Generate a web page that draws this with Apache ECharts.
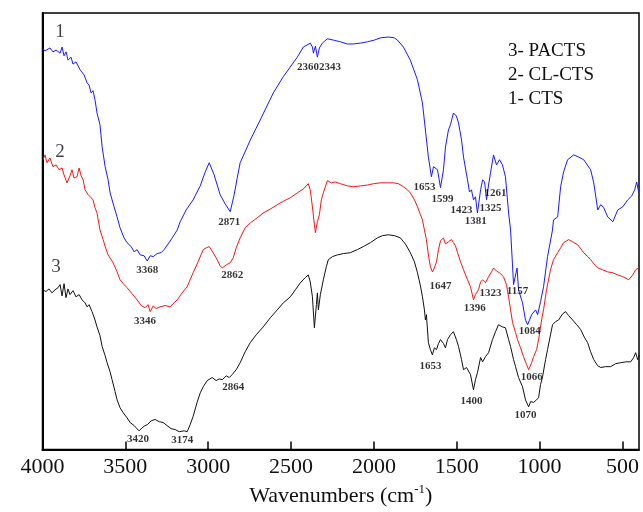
<!DOCTYPE html>
<html>
<head>
<meta charset="utf-8">
<title>FTIR</title>
<script src="https://cdn.jsdelivr.net/npm/echarts@6.0.0/dist/echarts.min.js"></script>
<style>
    html,body{margin:0;padding:0;background:#fff;}
    #main{width:643px;height:512px;}
</style>
</head>
<body>
<div id="main"></div>
<script>
// 1- CTS  [wavenumber, transmittance(a.u.)]
let cts=[[3997,91.8],[3985,91.3],[3973,91.3],[3955,92.0],[3937,91.1],[3918,91.5],[3894,90.8],[3882,92.2],[3870,90.2],[3858,91.1],[3846,89.2],[3828,89.9],[3816,88.3],[3798,88.8],[3773,87.0],[3749,85.8],[3731,84.0],[3719,83.5],[3707,81.7],[3695,82.2],[3683,80.1],[3671,77.1],[3653,74.4],[3640,69.3],[3622,64.8],[3604,61.8],[3592,58.8],[3568,55.6],[3550,53.3],[3532,50.8],[3508,48.5],[3490,47.4],[3465,46.5],[3447,45.3],[3429,45.8],[3411,44.6],[3387,44.4],[3368,43.2],[3350,44.4],[3332,44.2],[3308,44.9],[3284,45.1],[3266,45.8],[3242,47.1],[3217,48.5],[3187,50.3],[3169,52.2],[3133,54.9],[3091,57.2],[3048,60.4],[3018,63.6],[2994,65.7],[2964,62.9],[2928,58.4],[2898,56.3],[2867,54.5],[2843,58.4],[2825,62.2],[2807,65.7],[2746,70.9],[2686,75.5],[2607,81.7],[2547,85.4],[2462,89.9],[2426,92.2],[2383,93.1],[2371,92.2],[2365,90.8],[2353,92.4],[2341,89.9],[2329,92.0],[2311,93.1],[2281,94.1],[2245,93.8],[2202,93.4],[2160,92.9],[2124,92.9],[2082,93.1],[2039,93.4],[1997,93.8],[1961,94.3],[1912,94.5],[1876,94.3],[1858,93.8],[1822,92.2],[1780,89.2],[1737,84.7],[1707,79.4],[1689,73.2],[1671,67.0],[1653,62.5],[1640,64.8],[1628,64.8],[1616,64.1],[1598,60.0],[1580,64.1],[1568,69.3],[1550,73.2],[1538,74.4],[1520,77.1],[1502,76.4],[1489,74.8],[1471,70.9],[1459,67.0],[1435,61.8],[1423,59.0],[1411,59.5],[1399,57.2],[1387,57.9],[1375,54.2],[1356,59.5],[1344,61.8],[1332,61.3],[1320,57.2],[1308,60.6],[1296,63.4],[1278,67.5],[1260,65.2],[1242,66.4],[1224,65.2],[1206,62.5],[1187,54.2],[1175,50.3],[1157,37.8],[1136,41.6],[1127,36.6],[1103,33.6],[1085,29.7],[1072,28.6],[1048,30.9],[1024,32.0],[1012,30.9],[994,33.9],[976,37.3],[952,44.2],[922,50.3],[916,52.6],[891,53.3],[873,60.2],[855,63.6],[831,66.4],[794,67.5],[764,67.0],[734,66.4],[692,64.1],[673,61.1],[649,54.9],[631,56.1],[613,55.4],[589,53.3],[558,52.2],[528,54.9],[498,55.6],[468,57.2],[444,58.1],[426,59.5],[414,61.3],[402,59.0]]
// 2- CL-CTS
let clcts=[[3997,66.4],[3985,67.5],[3973,65.7],[3955,66.8],[3937,64.8],[3918,65.2],[3900,64.1],[3882,64.5],[3870,62.9],[3852,61.1],[3834,62.7],[3822,64.1],[3810,62.2],[3792,62.5],[3779,64.5],[3767,62.7],[3755,61.8],[3743,59.5],[3725,58.4],[3707,57.7],[3695,57.2],[3683,55.4],[3671,54.2],[3653,50.3],[3634,48.1],[3622,46.5],[3604,44.6],[3574,42.8],[3550,40.7],[3532,38.9],[3508,37.8],[3490,37.1],[3460,35.7],[3429,34.3],[3405,33.0],[3381,32.5],[3363,33.2],[3350,31.6],[3332,32.9],[3314,32.3],[3290,32.7],[3260,33.0],[3230,32.7],[3206,33.6],[3187,34.3],[3157,35.9],[3127,37.3],[3091,40.5],[3061,43.0],[3030,45.8],[3012,46.2],[2994,46.5],[2970,45.1],[2946,43.5],[2928,42.1],[2915,41.6],[2891,42.3],[2867,42.8],[2849,43.9],[2831,46.2],[2807,48.5],[2777,50.8],[2746,51.9],[2704,53.1],[2668,54.2],[2625,55.1],[2565,56.5],[2504,57.7],[2462,58.8],[2426,59.7],[2396,60.9],[2384,59.5],[2371,55.6],[2359,51.5],[2353,49.7],[2341,52.2],[2329,53.8],[2317,57.2],[2305,58.8],[2281,61.6],[2257,61.1],[2233,61.3],[2202,60.9],[2160,60.4],[2124,60.2],[2082,60.4],[2039,60.6],[2003,60.9],[1961,61.1],[1918,61.1],[1882,61.1],[1852,60.9],[1822,60.2],[1798,59.5],[1780,58.8],[1755,57.2],[1737,55.6],[1719,53.8],[1707,52.6],[1695,50.3],[1683,48.1],[1671,44.6],[1659,41.9],[1647,40.7],[1635,41.6],[1622,43.0],[1610,45.8],[1598,47.8],[1580,48.5],[1568,47.1],[1550,47.6],[1532,48.1],[1520,47.4],[1508,46.7],[1495,45.1],[1477,43.0],[1459,41.2],[1435,38.9],[1417,37.3],[1399,34.3],[1387,35.5],[1369,36.6],[1356,38.4],[1344,38.9],[1326,38.2],[1308,39.6],[1290,40.7],[1278,41.6],[1260,40.9],[1242,40.5],[1218,39.6],[1200,37.8],[1187,35.0],[1175,32.0],[1163,29.1],[1145,26.8],[1133,25.2],[1115,23.3],[1097,21.3],[1079,19.5],[1066,18.3],[1048,19.9],[1036,21.3],[1018,22.9],[1006,25.2],[988,29.7],[976,32.0],[958,36.6],[934,41.2],[916,43.5],[891,45.1],[873,46.2],[855,47.4],[825,48.1],[801,47.6],[770,46.9],[752,46.0],[734,45.1],[710,44.2],[692,43.5],[667,42.3],[649,41.6],[619,41.2],[589,40.7],[558,40.5],[528,40.0],[498,39.6],[462,38.9],[438,40.0],[420,41.2],[402,41.6]]
// 3- PACTS
let pacts=[[3997,36.6],[3979,36.2],[3961,36.8],[3943,35.9],[3924,36.6],[3906,37.1],[3894,37.8],[3882,35.2],[3870,38.0],[3858,34.8],[3846,36.8],[3834,35.5],[3816,36.4],[3798,35.0],[3779,35.5],[3761,34.3],[3743,33.6],[3731,32.7],[3719,33.2],[3701,31.6],[3683,29.7],[3671,28.1],[3653,26.1],[3640,23.6],[3622,21.5],[3610,19.9],[3592,17.8],[3580,16.0],[3562,13.3],[3550,11.4],[3532,9.6],[3514,8.5],[3490,7.3],[3471,6.2],[3447,5.5],[3435,5.0],[3417,4.3],[3399,5.0],[3381,5.5],[3368,5.7],[3344,6.6],[3320,6.9],[3296,6.4],[3272,6.2],[3248,5.5],[3224,4.8],[3200,4.6],[3175,4.1],[3145,4.3],[3127,4.1],[3109,5.7],[3091,7.6],[3067,10.8],[3048,13.0],[3030,14.4],[3006,15.8],[2976,16.5],[2952,15.8],[2934,16.2],[2915,16.0],[2891,16.9],[2873,16.5],[2855,17.2],[2831,18.3],[2807,19.9],[2777,22.4],[2746,24.5],[2710,26.3],[2668,28.1],[2625,30.2],[2583,32.0],[2547,33.6],[2504,35.0],[2474,36.6],[2444,38.2],[2414,39.4],[2396,40.0],[2384,38.4],[2371,35.0],[2359,27.9],[2347,33.2],[2341,35.9],[2335,32.0],[2323,35.5],[2305,38.9],[2287,41.9],[2275,43.5],[2250,44.2],[2220,44.6],[2184,44.9],[2142,45.1],[2100,45.8],[2064,46.5],[2021,47.4],[1979,48.5],[1949,49.0],[1912,49.2],[1876,49.0],[1840,48.5],[1810,47.1],[1780,45.1],[1755,43.0],[1737,40.5],[1719,37.5],[1707,35.0],[1695,32.0],[1689,29.7],[1683,30.9],[1671,24.5],[1659,22.9],[1647,21.7],[1635,23.3],[1622,22.9],[1610,24.3],[1598,25.2],[1580,24.3],[1568,23.3],[1556,25.2],[1538,26.3],[1520,27.0],[1502,25.2],[1489,23.6],[1471,20.6],[1459,18.3],[1441,18.8],[1429,19.0],[1417,17.2],[1399,13.7],[1387,16.0],[1375,17.6],[1356,21.1],[1344,20.1],[1326,21.3],[1308,22.2],[1284,25.2],[1266,27.0],[1248,28.6],[1224,28.1],[1206,27.9],[1187,25.2],[1175,23.6],[1157,20.6],[1145,19.0],[1127,16.5],[1103,14.4],[1085,11.4],[1066,9.8],[1054,11.0],[1036,10.8],[1018,11.4],[1006,11.9],[994,14.9],[982,16.7],[964,20.6],[952,22.9],[934,26.3],[922,28.6],[904,29.3],[885,29.7],[861,31.1],[843,31.6],[825,30.7],[801,29.7],[776,28.6],[752,27.5],[728,25.6],[710,24.5],[692,22.4],[673,20.6],[649,19.2],[631,18.8],[601,19.0],[571,19.0],[540,19.7],[510,19.9],[480,20.1],[450,20.1],[432,21.1],[420,22.2],[408,20.6],[396,21.7]]

// 峰位标注 [wavenumber, y, text]
let peakLabels=[[2332,87.6,'23602343'],[2873,52.2,'2871'],[3368,41.2,'3368'],[2855,40.0,'2862'],[3381,29.5,'3346'],[3423,2.3,'3420'],[3157,2.1,'3174'],[2849,14.4,'2864'],[1695,60.0,'1653'],[1586,57.4,'1599'],[1471,54.9,'1423'],[1386,52.4,'1381'],[1296,55.4,'1325'],[1266,58.8,'1261'],[1598,37.5,'1647'],[1392,32.5,'1396'],[1296,35.9,'1323'],[1133,36.4,'1157'],[1060,27.2,'1084'],[1658,19.2,'1653'],[1048,16.7,'1066'],[1411,11.0,'1400'],[1085,7.8,'1070']]
// 曲线编号
let curveTags=[[3894,95.7,'1'],[3894,68.2,'2'],[3918,41.9,'3']]
let seriesNames=['1- CTS','2- CL-CTS','3- PACTS']
let seriesColors=['#1a1aff','#f01818','#111111']
let xTicks=[4000,3500,3000,2500,2000,1500,1000,500]

let chart=echarts.init(document.getElementById('main'))
let lineSeries=[cts,clcts,pacts].map(function(d,i){
    return {
        name:seriesNames[i],
        type:'line',
        data:d,
        showSymbol:false,
        lineStyle:{width:1,color:seriesColors[i]},
        itemStyle:{color:seriesColors[i]},
        z:2
    }
})
lineSeries.push({
    name:'peaks',
    type:'scatter',
    symbolSize:0,
    data:peakLabels.map(function(p){return {value:[p[0],p[1]],name:p[2]}}),
    label:{show:true,position:'inside',formatter:'{b}',color:'#000',fontFamily:'Liberation Serif',fontWeight:'bold',fontSize:11},
    silent:true,
    z:5
})
lineSeries.push({
    name:'tags',
    type:'scatter',
    symbolSize:0,
    data:curveTags.map(function(p){return {value:[p[0],p[1]],name:p[2]}}),
    label:{show:true,position:'inside',formatter:'{b}',color:'#111',fontFamily:'Liberation Serif',fontSize:19},
    silent:true,
    z:5
})

chart.setOption({
    animation:false,
    grid:{left:42.5,right:4,top:13,bottom:62,show:true,borderColor:'#000',borderWidth:1.5},
    legend:{
        data:['3- PACTS','2- CL-CTS','1- CTS'],
        orient:'vertical',
        left:498,
        top:37,
        icon:'none',
        itemWidth:0,
        itemGap:5,
        selectedMode:false,
        textStyle:{fontFamily:'Liberation Serif',fontSize:19,color:'#111'}
    },
    xAxis:{
        type:'value',
        min:400,
        max:4000,
        inverse:true,
        axisLine:{lineStyle:{color:'#000',width:2}},
        axisTick:{inside:true,length:8,customValues:xTicks,lineStyle:{color:'#000',width:1.5}},
        axisLabel:{customValues:xTicks,margin:7,color:'#111',fontFamily:'Liberation Serif',fontSize:22,
            formatter:function(v){return String(v)}},
        splitLine:{show:false},
        name:'{a|Wavenumbers (cm}{s|-1}{a|)}',
        nameLocation:'middle',
        nameGap:33,
        nameTextStyle:{
            rich:{
                a:{fontFamily:'Liberation Serif',fontSize:22,color:'#111'},
                s:{fontFamily:'Liberation Serif',fontSize:13,color:'#111',padding:[0,0,12,0]}
            }
        }
    },
    yAxis:{
        type:'value',
        min:0,
        max:100,
        axisLine:{show:true,lineStyle:{color:'#000',width:2}},
        axisTick:{show:false},
        axisLabel:{show:false},
        splitLine:{show:false}
    },
    series:lineSeries
})
</script>
</body>
</html>
